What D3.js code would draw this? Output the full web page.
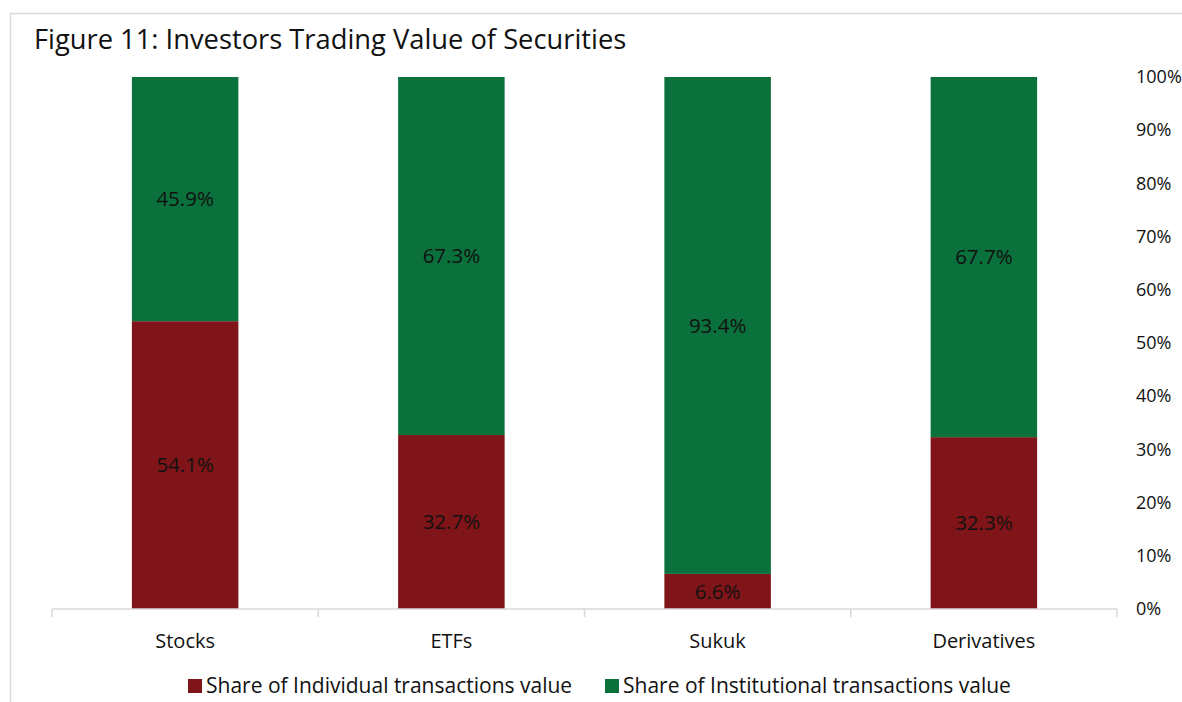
<!DOCTYPE html>
<html lang="en">
<head>
  <meta charset="UTF-8">
  <title>Figure 11</title>
  <script src="https://d3js.org/d3.v7.min.js"></script>
  <style>
    body { margin: 0; background: #fff; }
    svg text { font-family: 'Open Sans', 'Noto Sans', sans-serif; fill: #111; }
  </style>
</head>
<body>
<div id="chart"></div>
<script>
  // data
  var categories = ['Stocks', 'ETFs', 'Sukuk', 'Derivatives'];
  var individual = [54.1, 32.7, 6.6, 32.3];
  var institutional = [45.9, 67.3, 93.4, 67.7];
  var seriesNames = ['Share of Individual transactions value', 'Share of Institutional transactions value'];
  var yTicks = [0, 10, 20, 30, 40, 50, 60, 70, 80, 90, 100];

  var WIDTH = 1182, HEIGHT = 702,
    PLOT = {left: 52, right: 1117, top: 77, bottom: 609},
    COLORS = ['#7f1518', '#0a703c'];

  var svg = d3.select('#chart').append('svg')
    .attr('width', WIDTH)
    .attr('height', HEIGHT);

  // chart area border (runs off the right and bottom edge)
  svg.append('rect')
    .attr('x', 10.5).attr('y', 13.5)
    .attr('width', 1200).attr('height', 720)
    .attr('fill', 'none')
    .attr('stroke', '#d9d9d9')
    .attr('stroke-width', 1.5);

  svg.append('text')
    .attr('x', 34).attr('y', 49)
    .style('font-size', '27.3px')
    .text('Figure 11: Investors Trading Value of Securities');

  var x = d3.scaleBand()
    .domain(categories)
    .range([PLOT.left, PLOT.right])
    .paddingInner(0.6)
    .paddingOuter(0.3);
  var y = d3.scaleLinear()
    .domain([0, 100])
    .range([PLOT.bottom, PLOT.top]);

  // stacked data
  var rows = categories.map(function (c, i) {
    return {cat: c, individual: individual[i], institutional: institutional[i]};
  });
  var stack = d3.stack().keys(['individual', 'institutional'])(rows);

  var layers = svg.selectAll('g.layer')
    .data(stack)
    .enter()
    .append('g')
    .attr('class', 'layer')
    .attr('fill', function (d, i) { return COLORS[i]; });

  layers.selectAll('rect')
    .data(function (d) { return d; })
    .enter()
    .append('rect')
    .attr('x', function (d) { return x(d.data.cat); })
    .attr('width', x.bandwidth())
    .attr('y', function (d) { return y(d[1]); })
    .attr('height', function (d) { return y(d[0]) - y(d[1]); });

  layers.selectAll('text')
    .data(function (d) { return d; })
    .enter()
    .append('text')
    .attr('x', function (d) { return x(d.data.cat) + x.bandwidth() / 2; })
    .attr('y', function (d) { return (y(d[0]) + y(d[1])) / 2; })
    .attr('dy', '0.35em')
    .attr('text-anchor', 'middle')
    .style('font-size', '20.5px')
    .text(function (d) { return (d[1] - d[0]).toFixed(1) + '%'; });

  // category axis
  var step = (PLOT.right - PLOT.left) / categories.length;
  var xAxis = svg.append('g')
    .attr('transform', 'translate(0,' + PLOT.bottom + ')');
  xAxis.append('line')
    .attr('x1', PLOT.left).attr('x2', PLOT.right)
    .attr('stroke', '#d9d9d9').attr('stroke-width', 1.5);
  xAxis.selectAll('line.tick')
    .data(d3.range(categories.length + 1))
    .enter()
    .append('line')
    .attr('class', 'tick')
    .attr('x1', function (d) { return PLOT.left + d * step; })
    .attr('x2', function (d) { return PLOT.left + d * step; })
    .attr('y1', 0).attr('y2', 8)
    .attr('stroke', '#d9d9d9').attr('stroke-width', 1.5);
  xAxis.selectAll('text')
    .data(categories)
    .enter()
    .append('text')
    .attr('x', function (d) { return x(d) + x.bandwidth() / 2; })
    .attr('y', 39)
    .attr('text-anchor', 'middle')
    .style('font-size', '20px')
    .text(function (d) { return d; });

  // right value axis, labels only
  var yAxis = svg.append('g')
    .attr('transform', 'translate(1132,0)')
    .call(d3.axisRight(y).tickValues(yTicks).tickSize(0).tickPadding(4)
      .tickFormat(function (d) { return d + '%'; }));
  yAxis.select('.domain').remove();
  yAxis.selectAll('text')
    .style('font-size', '18px')
    .style('font-family', "'Open Sans', 'Noto Sans', sans-serif")
    .attr('fill', '#111');

  // legend
  var legendX = [188, 605];
  var legend = svg.selectAll('g.legend')
    .data(seriesNames)
    .enter()
    .append('g')
    .attr('class', 'legend')
    .attr('transform', function (d, i) { return 'translate(' + legendX[i] + ',679)'; });
  legend.append('rect')
    .attr('width', 14).attr('height', 14)
    .attr('fill', function (d, i) { return COLORS[i]; });
  legend.append('text')
    .attr('x', 18).attr('y', 14)
    .style('font-size', '21px')
    .text(function (d) { return d; });
</script>
</body>
</html>
